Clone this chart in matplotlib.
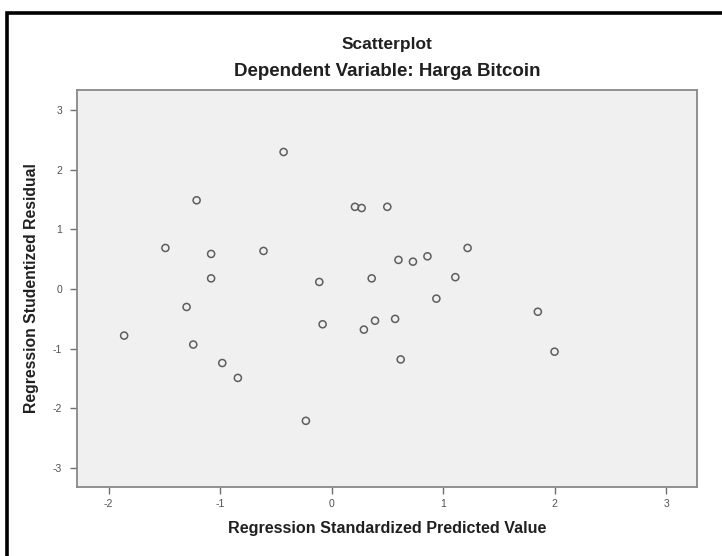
import matplotlib
matplotlib.use("Agg")
import matplotlib.pyplot as plt
from matplotlib.patches import Rectangle

plt.rcParams["font.family"] = ["Liberation Sans", "DejaVu Sans"]
plt.rcParams["axes.unicode_minus"] = False

# Regression standardized predicted value / studentized residual
pred = [-1.86, -1.49, -1.30, -1.24, -1.21, -1.08, -1.08, -0.98, -0.84, -0.61,
        -0.43, -0.23, -0.11, -0.08, 0.21, 0.27, 0.29, 0.36, 0.39, 0.50,
        0.57, 0.60, 0.62, 0.73, 0.86, 0.94, 1.11, 1.22, 1.85, 2.00]
resid = [-0.78, 0.69, -0.30, -0.93, 1.49, 0.59, 0.18, -1.24, -1.49, 0.64,
         2.30, -2.21, 0.12, -0.59, 1.38, 1.36, -0.68, 0.18, -0.53, 1.38,
         -0.50, 0.49, -1.18, 0.46, 0.55, -0.16, 0.20, 0.69, -0.38, -1.05]
x_ticks = [-2, -1, 0, 1, 2, 3]
y_ticks = [-3, -2, -1, 0, 1, 2, 3]

W, H = 722, 556
fig = plt.figure(figsize=(W / 100, H / 100), dpi=100)
ax = fig.add_axes([77.3 / W, 1 - 487 / H, (697.3 - 77.3) / W, (487 - 90) / H])

ax.set_facecolor("#f0f0f0")
ax.scatter(pred, resid, s=26, facecolors="none", edgecolors="#5e5e5e", linewidths=1.1, zorder=3)

ax.set_xlim(-2.28, 3.28)
ax.set_ylim(-3.32, 3.34)
ax.set_xticks(x_ticks)
ax.set_yticks(y_ticks)
ax.tick_params(direction="out", length=5, width=1, color="#707070",
               labelsize=7.5, labelcolor="#505050")
ax.tick_params(axis="y", pad=6)
ax.tick_params(axis="x", pad=3.5)
for sp in ax.spines.values():
    sp.set_color("#888888")
    sp.set_linewidth(1.3)

ax.set_xlabel("Regression Standardized Predicted Value", fontsize=11.6, fontweight="bold",
              color="#202020", labelpad=9)
ax.set_ylabel("Regression Studentized Residual", fontsize=11.3, fontweight="bold",
              color="#202020", labelpad=10)

fig.text(387 / W, 1 - 45 / H, "Scatterplot", ha="center", va="center",
         fontsize=12.5, fontweight="bold", color="#202020")
fig.text(387 / W, 1 - 71 / H, "Dependent Variable: Harga Bitcoin", ha="center", va="center",
         fontsize=13.5, fontweight="bold", color="#202020")

# black outer frame (cropped at right and bottom)
frame = Rectangle((7 / W, -0.2), 1.5, 1 - 12.5 / H + 0.2, transform=fig.transFigure,
                  fill=False, edgecolor="black", linewidth=2.6, clip_on=False)
fig.patches.append(frame)

fig.savefig("out.png", dpi=100)
